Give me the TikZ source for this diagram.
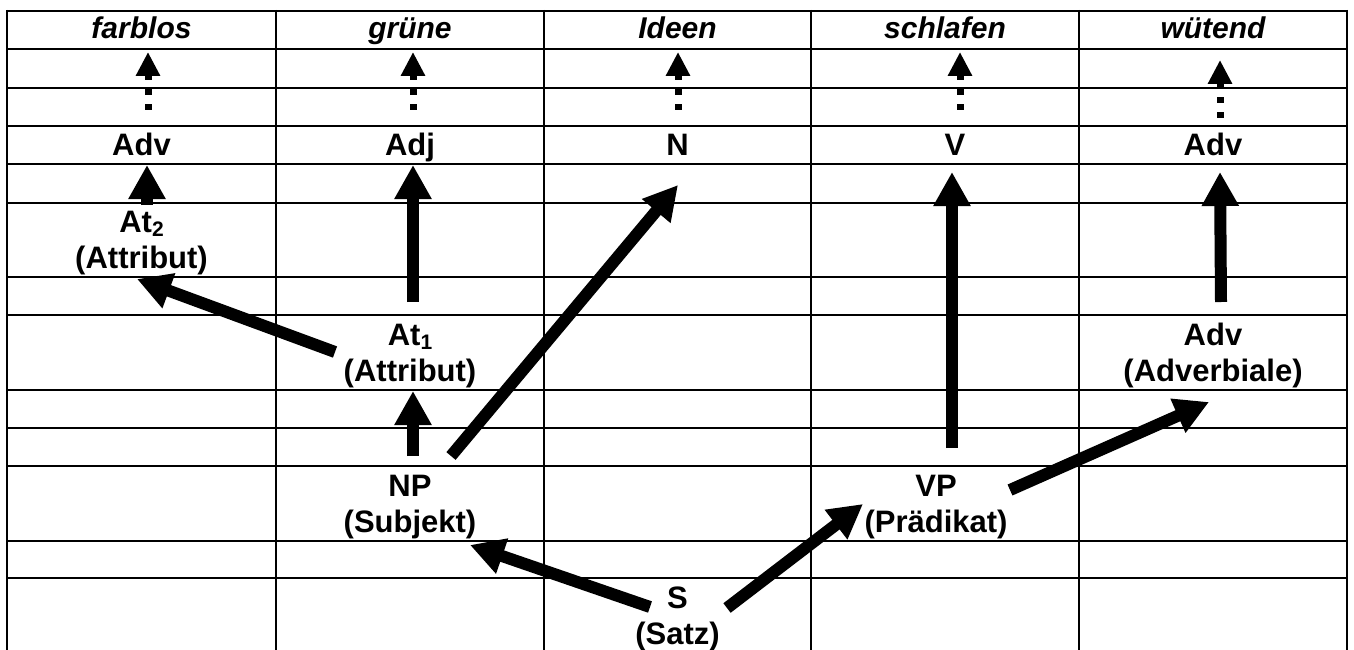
\documentclass[tikz,border=0pt]{standalone}
\usepackage{fontspec}
\setmainfont{Liberation Sans}
\usetikzlibrary{arrows.meta}

\begin{document}
\begin{tikzpicture}[x=1pt, y=-1pt,
  gridline/.style={line width=2pt},
  word/.style={anchor=base, inner sep=0pt,
    font=\fontsize{30}{36}\selectfont\bfseries\itshape},
  cat/.style={anchor=base, inner sep=0pt, align=center,
    font=\fontsize{31}{36}\selectfont\bfseries},
  dotarrow/.style={line width=7pt, dash pattern=on 6pt off 9pt,
    -{Triangle[width=23pt,length=24pt]}},
  bigarrow/.style={line width=12pt,
    -{Triangle[width=35pt,length=34pt]}},
]
\newcommand{\subidx}[1]{\raisebox{-4pt}{\fontsize{21}{21}\selectfont #1}}

\useasboundingbox (0,0) rectangle (1354,650);

% table grid
\foreach \yy in {11,49,88,126,164,203,277,315,390,428,466,541,578}
  \draw[gridline] (6,\yy) -- (1348,\yy);
\foreach \xx in {7,276,544,811,1079,1347}
  \draw[gridline] (\xx,10) -- (\xx,650);

% words of the sentence
\node[word] (farblos)  at (141.5,39) {farblos};
\node[word] (gruene)   at (410,39)   {grüne};
\node[word] (ideen)    at (677.5,39) {Ideen};
\node[word] (schlafen) at (945,39)   {schlafen};
\node[word] (wuetend)  at (1213,39)  {wütend};

% word classes
\node[cat] (adv1) at (141.5,155) {Adv};
\node[cat] (adj)  at (410,155)   {Adj};
\node[cat] (n)    at (677.5,155) {N};
\node[cat] (v)    at (955,155)   {V};
\node[cat] (adv5) at (1213,155)  {Adv};

% sentence functions (base = baseline of the last line)
\node[cat] (at2)  at (141.5,268) {At\subidx{2}\\(Attribut)};
\node[cat] (at1)  at (410,381)   {At\subidx{1}\\(Attribut)};
\node[cat] (advb) at (1213,381)  {Adv\\(Adverbiale)};
\node[cat] (np)   at (410,532)   {NP\\(Subjekt)};
\node[cat] (vp)   at (936,532)   {VP\\(Prädikat)};
\node[cat] (s)    at (677.5,644) {S\\(Satz)};

% word class -> word
\draw[dotarrow] ([shift={(6.5,-45)}]adv1.base) -- ([shift={(6.5,13)}]farblos.base);
\draw[dotarrow] ([shift={(3,-45)}]adj.base)    -- ([shift={(3,13)}]gruene.base);
\draw[dotarrow] ([shift={(0.5,-45)}]n.base)    -- ([shift={(0.5,13)}]ideen.base);
\draw[dotarrow] ([shift={(5,-45)}]v.base)      -- ([shift={(15,13)}]schlafen.base);
\draw[dotarrow] ([shift={(7,-37)}]adv5.base)   -- ([shift={(7,21)}]wuetend.base);

% constituent structure
\draw[bigarrow] ([shift={(5.5,-63)}]at2.base) -- ([shift={(5.5,10)}]adv1.base);
\draw[bigarrow] ([shift={(3,-79)}]at1.base)   -- ([shift={(3,10)}]adj.base);
\draw[bigarrow] ([shift={(3,-76)}]np.base)    -- ([shift={(3,10)}]at1.base);
\draw[bigarrow] ([shift={(41,-76)}]np.base)   -- ([shift={(0.5,30)}]n.base);
\draw[bigarrow] ([shift={(-75,-29)}]at1.base) -- ([shift={(-4.5,11)}]at2.base);
\draw[bigarrow] ([shift={(16,-84)}]vp.base)   -- ([shift={(-3,17)}]v.base);
\draw[bigarrow] ([shift={(8,-79)}]advb.base)  -- ([shift={(7,17)}]adv5.base);
\draw[bigarrow] ([shift={(74,-42)}]vp.base)   -- ([shift={(-4,21)}]advb.base);
\draw[bigarrow] ([shift={(-27.5,-37)}]s.base) -- ([shift={(60,13)}]np.base);
\draw[bigarrow] ([shift={(49.5,-36)}]s.base)  -- ([shift={(-73,-28)}]vp.base);
\end{tikzpicture}
\end{document}
